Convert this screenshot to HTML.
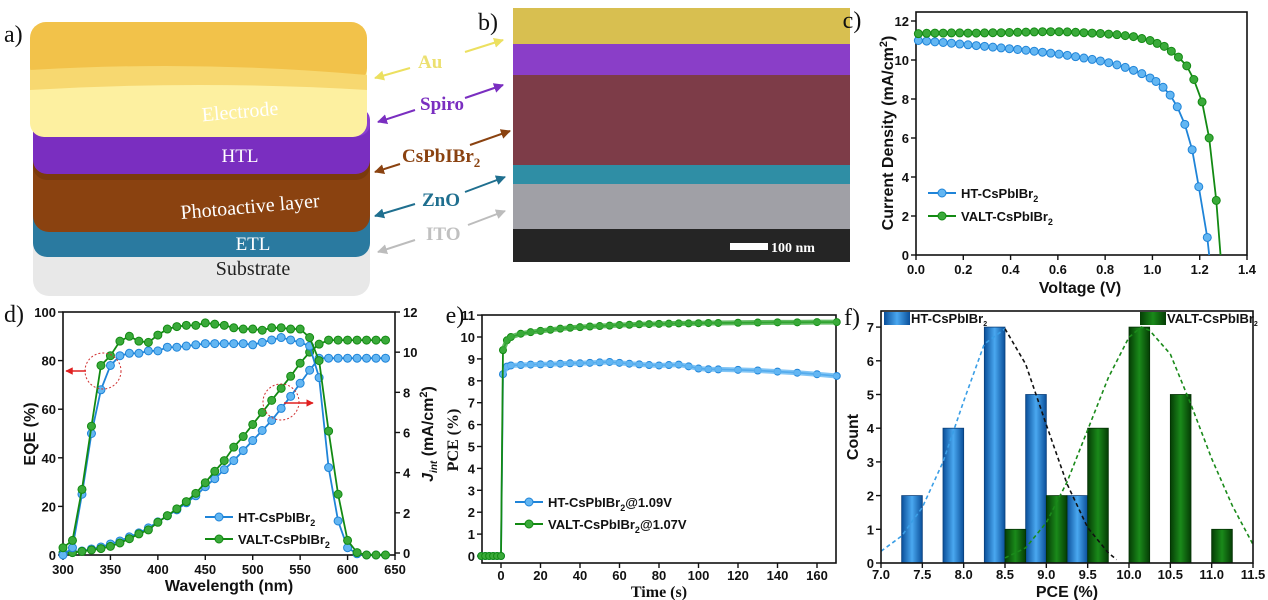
<!DOCTYPE html>
<html><head><meta charset="utf-8"><style>
html,body{margin:0;padding:0;background:#fff;}
svg{display:block;font-family:"Liberation Sans",Arial,sans-serif;}
.tk{font-size:13px;font-weight:bold;fill:#111;}
.ti{font-size:16px;font-weight:bold;fill:#111;}
.pl{font-family:"Liberation Serif",serif;font-size:24px;fill:#111;}
</style></head><body>
<svg id="fig" width="1268" height="600" viewBox="0 0 1268 600" xmlns="http://www.w3.org/2000/svg">
<defs>
<marker id="ah" viewBox="0 0 10 10" refX="9" refY="5" markerWidth="5" markerHeight="5" orient="auto-start-reverse"><path d="M0,0L10,5L0,10z" fill="context-stroke"/></marker>
<marker id="ahr" viewBox="0 0 10 10" refX="9" refY="5" markerWidth="5" markerHeight="5" orient="auto"><path d="M0,0L10,5L0,10z" fill="#e02020"/></marker>
</defs>
<!-- panel a -->
<g>
<text class="pl" x="4" y="42">a)</text>
<g><rect x="33" y="226" width="337" height="70" rx="16" fill="#e8e8e8"/><rect x="33" y="226" width="337" height="30" rx="14" fill="#c8c8c8"/><text x="253" y="275" font-family="Liberation Serif,serif" font-size="20" fill="#222" text-anchor="middle">Substrate</text></g>
<g><rect x="33" y="195" width="337" height="62" rx="14" fill="#2a7aa0"/><rect x="33" y="195" width="337" height="30" rx="12" fill="#3a8cb2"/><text x="253" y="250" font-family="Liberation Serif,serif" font-size="19" fill="#fff" text-anchor="middle">ETL</text></g>
<g><rect x="33" y="140" width="337" height="92" rx="16" fill="#8a4210"/><rect x="33" y="140" width="337" height="40" rx="14" fill="#7a3a0c"/><text x="250" y="213" font-family="Liberation Serif,serif" font-size="20" fill="#fff" text-anchor="middle" transform="rotate(-5 250 207)">Photoactive layer</text></g>
<g><rect x="33" y="108" width="337" height="66" rx="14" fill="#7a2ec0"/><rect x="33" y="108" width="337" height="28" rx="12" fill="#8a3ed0"/><text x="240" y="162" font-family="Liberation Serif,serif" font-size="19" fill="#fff" text-anchor="middle">HTL</text></g>
<g><rect x="30" y="55" width="337" height="82" rx="14" fill="#fdf0a0"/><rect x="30" y="22" width="337" height="62" rx="16" fill="#f2c24a"/><path d="M30,70 Q200,60 367,75 L367,90 Q200,80 30,90z" fill="#f7d870"/><text x="240" y="118" font-family="Liberation Serif,serif" font-size="20" fill="#fff" text-anchor="middle" transform="rotate(-5 240 112)">Electrode</text></g>
<g font-family="Liberation Serif,serif" font-weight="bold" font-size="19">
<line x1="375" y1="78" x2="410" y2="68" stroke="#ece060" stroke-width="2" marker-start="url(#ah)"/><line x1="465" y1="52" x2="503" y2="40" stroke="#ece060" stroke-width="2" marker-end="url(#ah)"/><text x="418" y="68" fill="#ece070">Au</text>
<line x1="378" y1="122" x2="415" y2="110" stroke="#7a2ec0" stroke-width="2" marker-start="url(#ah)"/><line x1="465" y1="98" x2="503" y2="85" stroke="#7a2ec0" stroke-width="2" marker-end="url(#ah)"/><text x="420" y="110" fill="#7a2ec0">Spiro</text>
<line x1="375" y1="172" x2="400" y2="164" stroke="#8a4210" stroke-width="2" marker-start="url(#ah)"/><line x1="470" y1="145" x2="510" y2="131" stroke="#8a4210" stroke-width="2" marker-end="url(#ah)"/><text x="402" y="162" fill="#8a4210">CsPbIBr<tspan font-size="13" dy="5">2</tspan></text>
<line x1="375" y1="216" x2="415" y2="204" stroke="#1f6f8f" stroke-width="2" marker-start="url(#ah)"/><line x1="465" y1="192" x2="505" y2="177" stroke="#1f6f8f" stroke-width="2" marker-end="url(#ah)"/><text x="422" y="206" fill="#1f6f8f">ZnO</text>
<line x1="378" y1="252" x2="415" y2="240" stroke="#bcbcbc" stroke-width="2" marker-start="url(#ah)"/><line x1="468" y1="225" x2="505" y2="211" stroke="#bcbcbc" stroke-width="2" marker-end="url(#ah)"/><text x="426" y="240" fill="#c0c0c0">ITO</text>
</g></g>
<!-- panel b -->
<g>
<text class="pl" x="478" y="30">b)</text>
<rect x="513" y="8" width="337" height="38" fill="#d8bf50"/>
<rect x="513" y="44" width="337" height="32" fill="#8a3ec8"/>
<rect x="513" y="75" width="337" height="92" fill="#7d3c48"/>
<rect x="513" y="165" width="337" height="20" fill="#2f8ea5"/>
<rect x="513" y="184" width="337" height="46" fill="#a0a0a6"/>
<rect x="513" y="229" width="337" height="33" fill="#252525"/>
<rect x="730" y="243" width="38" height="7" fill="#fff"/>
<text x="771" y="252" font-family="Liberation Serif,serif" font-weight="bold" font-size="14" fill="#fff">100 nm</text>
</g>
<g id="c"></g><g id="d"></g><g id="e"></g><g id="f"></g>
</svg>
<script>
// ---- panel c data
const cHTV=[0.01,0.045,0.08,0.115,0.15,0.185,0.22,0.255,0.29,0.325,0.36,0.395,0.43,0.465,0.5,0.535,0.57,0.605,0.64,0.675,0.71,0.745,0.78,0.815,0.85,0.885,0.92,0.955,0.99,1.015,1.045,1.075,1.105,1.137,1.168,1.196,1.232];
const cHTJ=[11.0,10.97,10.93,10.9,10.86,10.82,10.78,10.74,10.7,10.66,10.62,10.58,10.54,10.5,10.45,10.4,10.35,10.3,10.24,10.17,10.1,10.03,9.95,9.86,9.75,9.62,9.47,9.3,9.08,8.9,8.6,8.2,7.6,6.7,5.4,3.5,0.9];
const cHTVoc=1.24;
const cVAV=[0.01,0.045,0.08,0.115,0.15,0.185,0.22,0.255,0.29,0.325,0.36,0.395,0.43,0.465,0.5,0.535,0.57,0.605,0.64,0.675,0.71,0.745,0.78,0.815,0.85,0.885,0.92,0.955,0.99,1.02,1.05,1.08,1.11,1.145,1.175,1.21,1.24,1.27];
const cVAJ=[11.35,11.37,11.38,11.38,11.39,11.39,11.38,11.38,11.39,11.4,11.4,11.41,11.42,11.43,11.44,11.45,11.45,11.45,11.44,11.42,11.4,11.38,11.36,11.33,11.3,11.25,11.2,11.1,11.0,10.85,10.7,10.45,10.15,9.7,9.0,7.85,6.0,2.8];
const cVAVoc=1.288;
const cXTicks=[0,0.2,0.4,0.6,0.8,1.0,1.2,1.4];
const cYTicks=[0,2,4,6,8,10,12];
// ---- panel d data
const dWl=[300,310,320,330,340,350,360,370,380,390,400,410,420,430,440,450,460,470,480,490,500,510,520,530,540,550,560,570,580,590,600,610,620,630,640];
const dEqeHT=[0,3,25,50,68,78,82,83,83,84,84,85.5,85.5,86,86.5,87,87,87,87,87,86.5,87.5,88.5,89.5,88.5,87.5,86,73,36,14,3,0.5,0,0,0];
const dEqeVA=[3,6,27,53,78,82,88,90,88,87.5,90.5,93,94,94.5,94.5,95.5,95,94.5,93.5,93,93,92.5,93.5,93.5,93,93,89.5,80,51,25,6,1,0,0,0];
const dJHT=[0,0.03,0.1,0.2,0.3,0.45,0.6,0.8,1.0,1.25,1.55,1.85,2.15,2.5,2.85,3.3,3.7,4.15,4.6,5.1,5.6,6.1,6.6,7.2,7.8,8.45,9.1,9.7,9.7,9.7,9.7,9.7,9.7,9.7,9.7];
const dJVA=[0,0.02,0.08,0.15,0.22,0.33,0.5,0.71,0.95,1.15,1.53,1.86,2.2,2.56,2.97,3.5,4.07,4.6,5.27,5.8,6.4,7.0,7.6,8.2,8.8,9.45,10.0,10.4,10.6,10.6,10.6,10.6,10.6,10.6,10.6];
const dXTicks=[300,350,400,450,500,550,600,650];
const dYTicks=[0,20,40,60,80,100];
const dY2Ticks=[0,2,4,6,8,10,12];
// ---- panel e data
const eT=[-10,-8,-6,-4,-2,0,1,3,5,10,15,20,25,30,35,40,45,50,55,60,65,70,75,80,85,90,95,100,105,110,120,130,140,150,160,170];
const ePceHT=[0,0,0,0,0,0,8.3,8.65,8.7,8.72,8.74,8.75,8.76,8.78,8.8,8.8,8.82,8.84,8.86,8.82,8.78,8.75,8.72,8.7,8.72,8.74,8.66,8.56,8.53,8.52,8.5,8.47,8.42,8.37,8.3,8.22];
const ePceVA=[0,0,0,0,0,0,9.4,9.85,10.0,10.15,10.22,10.28,10.33,10.38,10.42,10.45,10.48,10.5,10.52,10.55,10.56,10.58,10.59,10.6,10.61,10.62,10.62,10.63,10.64,10.64,10.65,10.66,10.67,10.67,10.68,10.68];
const eXTicks=[0,20,40,60,80,100,120,140,160];
const eYTicks=[0,1,2,3,4,5,6,7,8,9,10,11];
// ---- panel f data
const fHTCenters=[7.375,7.875,8.375,8.875,9.375];
const fHTCounts=[2,4,7,5,2];
const fVACenters=[8.625,9.125,9.625,10.125,10.625,11.125];
const fVACounts=[1,2,4,7,5,1];
const fHTFit=[7.0,0.35,7.25,0.8,7.5,1.65,7.75,3.0,8.0,4.8,8.25,6.5,8.5,6.95,8.75,5.9,9.0,4.1,9.25,2.35,9.5,1.05,9.75,0.3,9.85,0.1];
const fVAFit=[8.5,0.15,8.75,0.45,9.0,1.2,9.25,2.4,9.5,3.95,9.75,5.5,10.0,6.7,10.15,7.0,10.25,6.9,10.5,6.2,10.75,4.7,11.0,3.1,11.25,1.7,11.5,0.55];
const fXTicks=[7.0,7.5,8.0,8.5,9.0,9.5,10.0,10.5,11.0,11.5];
const fYTicks=[0,1,2,3,4,5,6,7];

const NS="http://www.w3.org/2000/svg";
function mk(tag,attrs,parent){const el=document.createElementNS(NS,tag);for(const k in attrs)el.setAttribute(k,attrs[k]);parent.appendChild(el);return el;}
const BLUE="#1f84d8",BLUEF="#63b6f2",GREEN="#138a13",GREENF="#3aaa3a";

function frame(g,x0,x1,y0,y1){
  const r=mk('rect',{x:x0,y:y0,width:x1-x0,height:y1-y0,fill:'none',stroke:'#111','stroke-width':1.6},g);
  
  
}
function xAxis(g,ticks,sx,yb,fmt,name,off,fs){
  ticks.forEach(t=>{
    const x=sx(t);
    const l=mk('line',{x1:x,x2:x,y1:yb,y2:yb+5,stroke:'#111','stroke-width':1.4},g);
    
    
    const tx=mk('text',{x:x,y:yb+(off||19),'text-anchor':'middle',class:'tk','font-size':fs||13},g);
    
    
    tx.textContent=fmt(t);
  });
}
function yAxis(g,ticks,sy,xl,fmt,name,right){
  ticks.forEach(t=>{
    const y=sy(t);
    const l=mk('line',{x1:xl,x2:right?xl+5:xl-5,y1:y,y2:y,stroke:'#111','stroke-width':1.4},g);
    
    
    const tx=mk('text',{x:right?xl+8:xl-7,y:y+5,'text-anchor':right?'start':'end',class:'tk'},g);
    
    
    tx.textContent=fmt(t);
  });
}
function series(g,xs,ys,sx,sy,stroke,fill,name,r,extra){
  let pts=xs.map((v,i)=>sx(v)+','+sy(ys[i]));
  if(extra)pts=pts.concat(extra);
  const p=mk('polyline',{points:pts.join(' '),fill:'none',stroke:stroke,'stroke-width':1.8},g);
  
  
  xs.forEach((v,i)=>{
    const c=mk('circle',{cx:sx(v),cy:sy(ys[i]),r:r,fill:fill,stroke:stroke,'stroke-width':1},g);
    
    
  });
}
function legend(g,x,y,stroke,fill,label,tail,size){
  const l=mk('line',{x1:x,x2:x+28,y1:y,y2:y,stroke:stroke,'stroke-width':2},g);
  
  
  const c=mk('circle',{cx:x+14,cy:y,r:4,fill:fill,stroke:stroke},g);
  
  
  const t=mk('text',{x:x+33,y:y+5,class:'tk','font-size':size||13},g);
  
  
  t.innerHTML=label+'<tspan font-size="9" dy="4">2</tspan><tspan dy="-4">'+(tail||'')+'</tspan>';
}
function txt(g,x,y,s,cls,name,rot){
  const t=mk('text',{x:x,y:y,class:cls,'text-anchor':'middle'},g);
  if(rot)t.setAttribute('transform','rotate(-90 '+x+' '+y+')');
  
  
  t.innerHTML=s;
  return t;
}
// ---- panel c
{const g=document.getElementById('c');


const sx=v=>916+v/1.4*331, sy=j=>255-j/12*234;
txt(g,852,28,'c)','pl','panel-label-c');
frame(g,916,1247,12,255);
xAxis(g,cXTicks,sx,255,v=>v.toFixed(1),'x-axis');
yAxis(g,cYTicks,sy,916,v=>v,'y-axis');
series(g,cHTV,cHTJ,sx,sy,BLUE,BLUEF,'ht-jv',4,[sx(cHTVoc)+','+sy(0)]);
series(g,cVAV,cVAJ,sx,sy,GREEN,GREENF,'valt-jv',4,[sx(cVAVoc)+','+sy(0)]);
txt(g,1080,293,'Voltage (V)','ti','x-axis-title');
txt(g,893,133,'Current Density (mA/cm<tspan font-size="11" dy="-6">2</tspan><tspan dy="6">)</tspan>','ti','y-axis-title',true);
legend(g,928,193,BLUE,BLUEF,'HT-CsPbIBr');
legend(g,928,216,GREEN,GREENF,'VALT-CsPbIBr');}
// ---- panel d
{const g=document.getElementById('d');


const sx=w=>63+(w-300)/350*332, sy=e=>555-e/100*243, sy2=j=>553-j/12*241;
txt(g,14,322,'d)','pl','panel-label-d');
frame(g,63,395,312,555);
xAxis(g,dXTicks,sx,555,v=>v,'x-axis');
yAxis(g,dYTicks,sy,63,v=>v,'y-axis-left');
yAxis(g,dY2Ticks,sy2,395,v=>v,'y-axis-right',true);
series(g,dWl,dJHT,sx,sy2,BLUE,BLUEF,'ht-jint',4);
series(g,dWl,dJVA,sx,sy2,GREEN,GREENF,'valt-jint',4);
series(g,dWl,dEqeHT,sx,sy,BLUE,BLUEF,'ht-eqe',4);
series(g,dWl,dEqeVA,sx,sy,GREEN,GREENF,'valt-eqe',4);
const c1=mk('circle',{cx:103,cy:371,r:18,fill:'none',stroke:'#d03030','stroke-dasharray':'2,2'},g);


const c2=mk('circle',{cx:281,cy:402,r:18,fill:'none',stroke:'#d03030','stroke-dasharray':'2,2'},g);


const a1=mk('line',{x1:86,y1:371,x2:66,y2:371,stroke:'#e02020','stroke-width':1.5,'marker-end':'url(#ahr)'},g);


const a2=mk('line',{x1:284,y1:403,x2:313,y2:403,stroke:'#e02020','stroke-width':1.5,'marker-end':'url(#ahr)'},g);


txt(g,229,591,'Wavelength (nm)','ti','x-axis-title');
txt(g,35,434,'EQE (%)','ti','y-axis-left-title',true);
txt(g,433,434,'<tspan font-style="italic">J</tspan><tspan font-size="10" font-style="italic" dy="4">int</tspan><tspan dy="-4"> (mA/cm</tspan><tspan font-size="11" dy="-6">2</tspan><tspan dy="6">)</tspan>','ti','y-axis-right-title',true);
legend(g,205,517,BLUE,BLUEF,'HT-CsPbIBr');
legend(g,205,539,GREEN,GREENF,'VALT-CsPbIBr');}
// ---- panel e
{const g=document.getElementById('e');


const sx=t=>501+t*1.975, sy=p=>556-p*21.9;
txt(g,455,323,'e)','pl','panel-label-e');
frame(g,482,836,315,563);
xAxis(g,eXTicks,sx,563,v=>v,'x-axis',17);
yAxis(g,eYTicks,sy,482,v=>v,'y-axis');
series(g,eT,ePceHT,sx,sy,BLUE,BLUEF,'ht-pce',3.5);
const hl=mk('polyline',{points:eT.slice(6).map((t,i)=>sx(t)+','+sy(ePceHT[i+6])).join(' '),fill:'none',stroke:BLUEF,'stroke-width':5,opacity:0.8},g);


series(g,eT,ePceVA,sx,sy,GREEN,GREENF,'valt-pce',3.5);
const gl=mk('polyline',{points:eT.slice(6).map((t,i)=>sx(t)+','+sy(ePceVA[i+6])).join(' '),fill:'none',stroke:GREENF,'stroke-width':5,opacity:0.8},g);


const tt=txt(g,659,597,'Time (s)','ti','x-axis-title');tt.setAttribute('font-family','Liberation Serif,serif');
const yt=txt(g,458,440,'PCE (%)','ti','y-axis-title',true);yt.setAttribute('font-family','Liberation Serif,serif');
legend(g,515,502,BLUE,BLUEF,'HT-CsPbIBr','@1.09V');
legend(g,515,524,GREEN,GREENF,'VALT-CsPbIBr','@1.07V');}
// ---- panel f
{const g=document.getElementById('f');


const sx=p=>881+(p-7)/4.5*372, sy=c=>563-c*33.7, bw=0.25*372/4.5;
txt(g,852,325,'f)','pl','panel-label-f');
const gr=document.createElementNS(NS,'linearGradient');
fig.querySelector('defs').appendChild(gr);
gr.id='gb';gr.innerHTML='<stop offset="0" stop-color="#0a4f9a"/><stop offset="0.5" stop-color="#4aa8f0"/><stop offset="1" stop-color="#0a4f9a"/>';
const gr2=document.createElementNS(NS,'linearGradient');
fig.querySelector('defs').appendChild(gr2);
gr2.id='gg';gr2.innerHTML='<stop offset="0" stop-color="#053d05"/><stop offset="0.5" stop-color="#1a8a1a"/><stop offset="1" stop-color="#053d05"/>';
fHTCenters.forEach((c,i)=>{
  const r=mk('rect',{x:sx(c)-bw/2,y:sy(fHTCounts[i]),width:bw,height:sy(0)-sy(fHTCounts[i]),fill:'url(#gb)',stroke:'#0a3f7a','stroke-width':0.8},g);
  
  
});
fVACenters.forEach((c,i)=>{
  const r=mk('rect',{x:sx(c)-bw/2,y:sy(fVACounts[i]),width:bw,height:sy(0)-sy(fVACounts[i]),fill:'url(#gg)',stroke:'#033003','stroke-width':0.8},g);
  
  
});
const hp=[],hp2=[],vp=[];
for(let i=0;i<fHTFit.length;i+=2){const pt=sx(fHTFit[i])+','+sy(fHTFit[i+1]);if(fHTFit[i]<=8.5)hp.push(pt);if(fHTFit[i]>=8.5)hp2.push(pt);}
for(let i=0;i<fVAFit.length;i+=2)vp.push(sx(fVAFit[i])+','+sy(fVAFit[i+1]));
const f1=mk('polyline',{points:hp.join(' '),fill:'none',stroke:'#3a9ee6','stroke-width':1.6,'stroke-dasharray':'4,3'},g);


const f2=mk('polyline',{points:hp2.join(' '),fill:'none',stroke:'#111','stroke-width':1.6,'stroke-dasharray':'4,3'},g);


const f3=mk('polyline',{points:vp.join(' '),fill:'none',stroke:'#1a8a1a','stroke-width':1.6,'stroke-dasharray':'4,3'},g);


frame(g,881,1253,311,563);
xAxis(g,fXTicks,sx,563,v=>v.toFixed(1),'x-axis',16,12);
yAxis(g,fYTicks,sy,881,v=>v,'y-axis');
txt(g,1067,597,'PCE (%)','ti','x-axis-title');
txt(g,858,437,'Count','ti','y-axis-title',true);
const lb1=mk('rect',{x:884,y:312,width:26,height:13,fill:'url(#gb)'},g);


const lt1=mk('text',{x:911,y:323,class:'tk','font-size':10},g);


lt1.innerHTML='HT-CsPbIBr<tspan font-size="7" dy="3">2</tspan>';
const lb2=mk('rect',{x:1140,y:312,width:26,height:13,fill:'url(#gg)'},g);


const lt2=mk('text',{x:1167,y:323,class:'tk','font-size':10},g);


lt2.innerHTML='VALT-CsPbIBr<tspan font-size="7" dy="3">2</tspan>';}
</script>
</body></html>
